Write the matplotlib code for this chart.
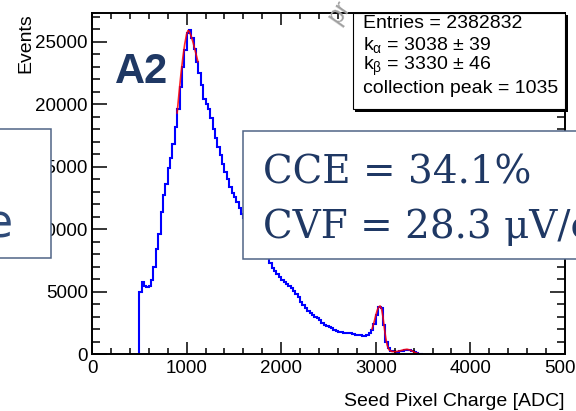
import numpy as np
import matplotlib
matplotlib.use('Agg')
import matplotlib.pyplot as plt
from matplotlib.ticker import MultipleLocator
from matplotlib.patches import Rectangle

plt.rcParams['font.family'] = ['Liberation Sans', 'DejaVu Sans']
plt.rcParams['mathtext.fontset'] = 'custom'
plt.rcParams['mathtext.rm'] = 'Liberation Sans'
plt.rcParams['mathtext.it'] = 'Liberation Sans'

# histogram, 25 ADC bins starting at 500
bin_start = 500
bin_width = 25
counts = [5000, 5750, 5450, 5400, 5450, 5900, 7000, 8400, 9600, 11400,      # 500
          12700, 13600, 14900, 15700, 16800, 18200, 19600, 21400, 23000, 24300,  # 750
          25700, 25900, 25300, 24400, 23400, 22500, 21500, 20400, 20000, 19600,  # 1000
          18900, 18000, 17300, 16600, 15900, 15200, 14600, 14000, 13400, 12900,  # 1250
          12600, 12200, 11700, 11200, 10900, 10600, 10200, 9900, 9500, 9200,     # 1500
          8900, 8600, 8300, 8000, 7700, 7300, 6900, 6650, 6400, 6150,            # 1750
          5950, 5750, 5600, 5450, 5300, 5050, 4800, 4550, 4200, 3900,            # 2000
          3650, 3450, 3300, 3150, 3000, 2900, 2700, 2500, 2300, 2250,            # 2250
          2150, 2050, 1950, 1850, 1800, 1750, 1720, 1700, 1680, 1660,            # 2500
          1600, 1550, 1520, 1500, 1470, 1450, 1500, 1650, 1900, 2400,            # 2750
          3100, 3750, 3700, 2300, 1000, 450, 250, 220, 200, 200,                 # 3000
          210, 250, 320, 360, 340, 230, 130, 80, 40, 20]                         # 3250

# fitted curves (red)
fit_main_x = [900, 920, 940, 960, 980, 1000, 1015, 1030, 1050, 1070, 1090, 1120]
fit_main_y = [19300, 20900, 22400, 23700, 24800, 25600, 25900, 25800, 25400, 24900, 24300, 23400]
fit_k_x = [2960, 2980, 3000, 3015, 3030, 3045, 3060, 3075, 3090, 3105, 3120, 3140,
           3170, 3210, 3250, 3290, 3330, 3370, 3410, 3450]
fit_k_y = [2000, 2500, 3100, 3500, 3750, 3850, 3650, 3000, 2100, 1300, 700, 330,
           200, 190, 240, 330, 380, 300, 130, 30]

stats_lines = ['Entries = 2382832',
               r'k$_{\alpha}$ = 3038 ± 39',
               r'k$_{\beta}$ = 3330 ± 46',
               'collection peak = 1035']

edges = bin_start + bin_width * np.arange(len(counts) + 1)

fig = plt.figure(figsize=(5.76, 4.11), dpi=100)
ax = fig.add_axes([92 / 576, 57 / 411, 473 / 576, 341 / 411])
ax.stairs(counts, edges, baseline=0, color='#0000ff', lw=1.5)
ax.plot(fit_main_x, fit_main_y, color='#ff0000', lw=1.2, alpha=0.85)
ax.plot(fit_k_x, fit_k_y, color='#ff0000', lw=1.2, alpha=0.85)

ax.set_xlim(0, 5000)
ax.set_ylim(0, 27300)
ax.xaxis.set_major_locator(MultipleLocator(1000))
ax.xaxis.set_minor_locator(MultipleLocator(200))
ax.yaxis.set_major_locator(MultipleLocator(5000))
ax.yaxis.set_minor_locator(MultipleLocator(1000))
ax.tick_params(which='both', direction='in', top=True, right=True,
               width=1.1, labelsize=13.5)
ax.xaxis.set_tick_params(which='major', length=8.5, pad=4)
ax.xaxis.set_tick_params(which='minor', length=4.3)
ax.yaxis.set_tick_params(which='major', length=10.8, pad=3)
ax.yaxis.set_tick_params(which='minor', length=5.8)
for s in ax.spines.values():
    s.set_linewidth(1.4)

ax.set_xlabel('Seed Pixel Charge [ADC]', loc='right', fontsize=14, labelpad=12)
ax.set_ylabel('Events', loc='top', fontsize=14, labelpad=1)

# overlay in pixel coordinates for the pasted boxes and labels
ov = fig.add_axes([0, 0, 1, 1], zorder=10)
ov.set_xlim(0, 576)
ov.set_ylim(411, 0)
ov.axis('off')
ov.patch.set_alpha(0)

# stats box with shadow
ov.add_patch(Rectangle((355, 15), 213, 97, fc='black', ec='none'))
ov.add_patch(Rectangle((353, 13), 212, 96, fc='white', ec='black', lw=0.8))
for i, line in enumerate(stats_lines):
    ov.text(363, 23 + i * 21.7, line, fontsize=14, va='center', color='black')

ov.text(115, 83, 'A2', fontsize=30, weight='bold', color='#1f3864')

ov.add_patch(Rectangle((-10, 129), 61, 129, fc='white', ec='#4f6486', lw=1.1))
ov.text(13, 237, 'e', ha='right', family='DejaVu Sans', fontsize=33,
        color='#2e4a78')

ov.add_patch(Rectangle((243, 131), 350, 128, fc='white', ec='#4f6486', lw=1.1))
ov.text(263, 183, 'CCE = 34.1%', family='DejaVu Serif', fontsize=28,
        color='#1f3864')
ov.text(263, 238, 'CVF = 28.3 \u03bcV/e', family='DejaVu Serif', fontsize=28,
        color='#1f3864')

ov.text(338, 25, 'pr', rotation=55, rotation_mode='anchor', fontsize=18,
        color='#a0a0a0')

fig.savefig('out.png', dpi=100)
